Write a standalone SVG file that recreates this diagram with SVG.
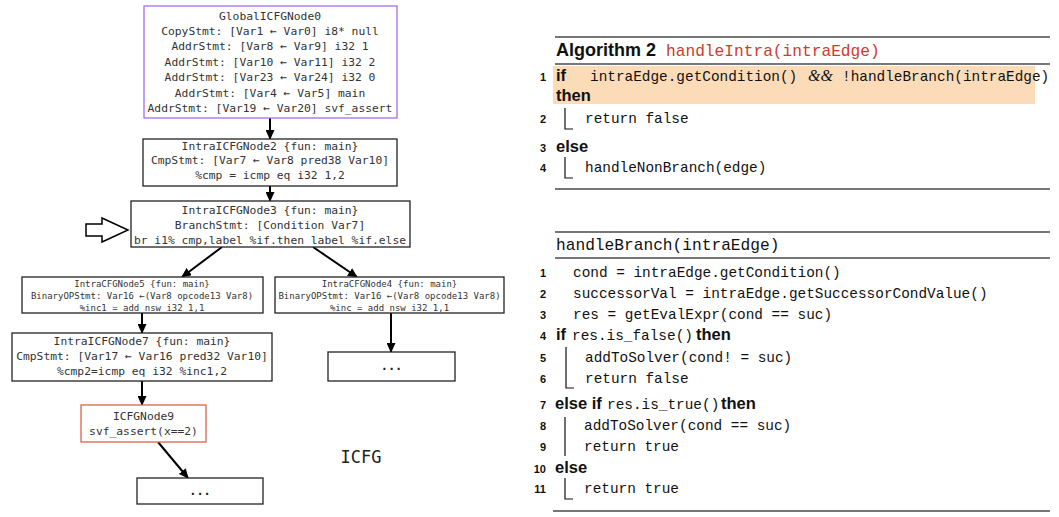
<svg xmlns="http://www.w3.org/2000/svg" width="1059" height="517" viewBox="0 0 1059 517">
<style>
.nb{fill:#fff;stroke:#222;stroke-width:1.3}
.nt{font-family:"DejaVu Sans Mono","Liberation Mono",monospace;font-size:11.3px;fill:#333;text-anchor:middle}
.ns{font-family:"DejaVu Sans Mono","Liberation Mono",monospace;font-size:9px;fill:#333;text-anchor:middle}
.dots{font-family:"DejaVu Sans Mono","Liberation Mono",monospace;font-size:12px;font-weight:bold;fill:#222;text-anchor:middle}
.cn{stroke:#000;stroke-width:2;fill:none;marker-end:url(#ah)}
.rule{stroke:#4a4a4a;stroke-width:1.6}
.kw{font-family:"Liberation Sans",Arial,sans-serif;font-weight:bold;font-size:16.5px;fill:#111}
.ln{font-family:"Liberation Sans",Arial,sans-serif;font-weight:bold;font-size:11px;fill:#111;text-anchor:end}
.cd{font-family:"Liberation Mono","Courier New",monospace;font-size:14.4px;fill:#111}
.hd{font-family:"Liberation Mono","Courier New",monospace;font-size:16.2px}
.br{stroke:#111;stroke-width:1.2;fill:none}
</style>
<defs>
<marker id="ah" markerUnits="userSpaceOnUse" markerWidth="10" markerHeight="9" refX="9" refY="4.5" orient="auto">
<path d="M0,0 L10,4.5 L0,9 Z" fill="#000"/>
</marker>
</defs>

<g id="connectors">
<line class="cn" x1="270" y1="118" x2="270" y2="139"/>
<line class="cn" x1="270" y1="186" x2="270" y2="201"/>
<line class="cn" x1="222" y1="247" x2="182" y2="277"/>
<line class="cn" x1="313" y1="247" x2="357" y2="277"/>
<line class="cn" x1="142" y1="313" x2="142" y2="333"/>
<line class="cn" x1="391" y1="313" x2="391" y2="352"/>
<line class="cn" x1="142" y1="381" x2="142" y2="405"/>
<line class="cn" x1="158" y1="442" x2="188" y2="478"/>
</g>

<g id="node0">
<rect x="144" y="6" width="253" height="112" fill="#fff" stroke="#a56fe6" stroke-width="1.3"/>
<text class="nt" x="270" y="19.5">GlobalICFGNode0</text>
<text class="nt" x="270" y="35">CopyStmt: [Var1 ← Var0] i8* null</text>
<text class="nt" x="270" y="50.3">AddrStmt: [Var8 ← Var9] i32 1</text>
<text class="nt" x="270" y="65.7">AddrStmt: [Var10 ← Var11] i32 2</text>
<text class="nt" x="270" y="81.1">AddrStmt: [Var23 ← Var24] i32 0</text>
<text class="nt" x="270" y="96.5">AddrStmt: [Var4 ← Var5] main</text>
<text class="nt" x="270" y="111.9">AddrStmt: [Var19 ← Var20] svf_assert</text>
</g>

<g id="node2">
<rect class="nb" x="143" y="139" width="254" height="47"/>
<text class="nt" x="270" y="150">IntraICFGNode2 {fun: main}</text>
<text class="nt" x="270" y="164">CmpStmt: [Var7 ← Var8 pred38 Var10]</text>
<text class="nt" x="270" y="179">%cmp = icmp eq i32 1,2</text>
</g>

<g id="node3">
<rect class="nb" x="131" y="201" width="279" height="46"/>
<text class="nt" x="270" y="214">IntraICFGNode3 {fun: main}</text>
<text class="nt" x="270" y="229">BranchStmt: [Condition Var7]</text>
<text class="nt" x="270" y="244">br i1% cmp,label %if.then label %if.else</text>
</g>

<g id="pointer">
<polygon points="86,224 102,224 102,218 128,230 102,242 102,236 86,236" fill="#fff" stroke="#000" stroke-width="1.5" stroke-linejoin="miter"/>
</g>

<g id="node5">
<rect class="nb" x="22" y="277" width="241" height="36"/>
<text class="ns" x="142" y="287">IntraCFGNode5 {fun: main}</text>
<text class="ns" x="142" y="299">BinaryOPStmt: Var16 ←(Var8 opcode13 Var8)</text>
<text class="ns" x="142" y="310.5">%inc1 = add nsw i32 1,1</text>
</g>

<g id="node4">
<rect class="nb" x="275" y="277" width="229" height="36"/>
<text class="ns" x="389.5" y="287">IntraCFGNode4 {fun: main}</text>
<text class="ns" x="389.5" y="299">BinaryOPStmt: Var16 ←(Var8 opcode13 Var8)</text>
<text class="ns" x="389.5" y="310.5">%inc = add nsw i32 1,1</text>
</g>

<g id="node7">
<rect class="nb" x="12" y="333" width="260" height="48"/>
<text class="nt" x="142" y="345">IntraICFGNode7 {fun: main}</text>
<text class="nt" x="142" y="360">CmpStmt: [Var17 ← Var16 pred32 Var10]</text>
<text class="nt" x="142" y="375">%cmp2=icmp eq i32 %inc1,2</text>
</g>

<g id="node4next">
<rect class="nb" x="328" y="352" width="127" height="29"/>
<text class="dots" x="391.5" y="370">...</text>
</g>

<g id="node9">
<rect x="81" y="405" width="125" height="37" fill="#fff" stroke="#e0604c" stroke-width="1.3"/>
<text class="nt" x="143.5" y="420">ICFGNode9</text>
<text class="nt" x="143.5" y="435">svf_assert(x==2)</text>
</g>

<g id="node9next">
<rect class="nb" x="137" y="478" width="126" height="26"/>
<text class="dots" x="200" y="495">...</text>
</g>

<text x="361" y="463" font-family="'DejaVu Sans Mono','Liberation Mono',monospace" font-size="17px" fill="#222" text-anchor="middle">ICFG</text>

<g id="algorithm2">
<line class="rule" x1="555" y1="37" x2="1050" y2="37" stroke-width="2"/>
<text x="556" y="56" font-family="'Liberation Sans',Arial,sans-serif" font-weight="bold" font-size="18px" fill="#111">Algorithm 2</text>
<text class="hd" x="666" y="56" fill="#d03b2a">handleIntra(intraEdge)</text>
<line class="rule" x1="555" y1="64" x2="1050" y2="64"/>
<rect x="553" y="66" width="482" height="38" fill="#fcdcb8"/>
<text class="ln" x="546" y="81">1</text>
<text class="kw" x="556" y="81">if</text>
<text class="cd" x="590" y="81">intraEdge.getCondition()</text>
<text x="808" y="81" font-family="'Liberation Serif','Times New Roman',serif" font-style="italic" font-size="16px" fill="#111">&amp;&amp;</text>
<text class="cd" x="842" y="81">!handleBranch(intraEdge)</text>
<text class="kw" x="556" y="101">then</text>
<text class="ln" x="546" y="123">2</text>
<path class="br" d="M565,108 V129 H573"/>
<text class="cd" x="585" y="123">return false</text>
<text class="ln" x="546" y="152">3</text>
<text class="kw" x="556" y="152">else</text>
<text class="ln" x="546" y="172">4</text>
<path class="br" d="M565,157 V178 H573"/>
<text class="cd" x="585" y="172">handleNonBranch(edge)</text>
<line class="rule" x1="555" y1="189" x2="1050" y2="189"/>
</g>

<g id="handleBranch">
<line class="rule" x1="555" y1="232" x2="1050" y2="232" stroke-width="2"/>
<text class="hd" x="556" y="250" fill="#111">handleBranch(intraEdge)</text>
<line class="rule" x1="555" y1="258" x2="1050" y2="258"/>
<text class="ln" x="546" y="277">1</text>
<text class="cd" x="573" y="277">cond = intraEdge.getCondition()</text>
<text class="ln" x="546" y="298">2</text>
<text class="cd" x="573" y="298">successorVal = intraEdge.getSuccessorCondValue()</text>
<text class="ln" x="546" y="319">3</text>
<text class="cd" x="573" y="319">res = getEvalExpr(cond == suc)</text>
<text class="ln" x="546" y="340">4</text>
<text class="kw" x="556" y="340">if</text>
<text class="cd" x="572" y="340">res.is_false()</text>
<text class="kw" x="696" y="340">then</text>
<text class="ln" x="546" y="362">5</text>
<text class="cd" x="585" y="362">addToSolver(cond! = suc)</text>
<text class="ln" x="546" y="383">6</text>
<text class="cd" x="585" y="383">return false</text>
<path class="br" d="M566,347 V388 H574"/>
<text class="ln" x="546" y="409">7</text>
<text class="kw" x="555" y="409">else if</text>
<text class="cd" x="607" y="409">res.is_true()</text>
<text class="kw" x="721" y="409">then</text>
<text class="ln" x="546" y="430">8</text>
<text class="cd" x="584" y="430">addToSolver(cond == suc)</text>
<text class="ln" x="546" y="451">9</text>
<text class="cd" x="584" y="451">return true</text>
<path class="br" d="M565,417 V456"/>
<text class="ln" x="546" y="473">10</text>
<text class="kw" x="555" y="473">else</text>
<text class="ln" x="546" y="493">11</text>
<text class="cd" x="584" y="493">return true</text>
<path class="br" d="M565,478 V499 H573"/>
<line class="rule" x1="553" y1="511" x2="1050" y2="511"/>
</g>
</svg>
